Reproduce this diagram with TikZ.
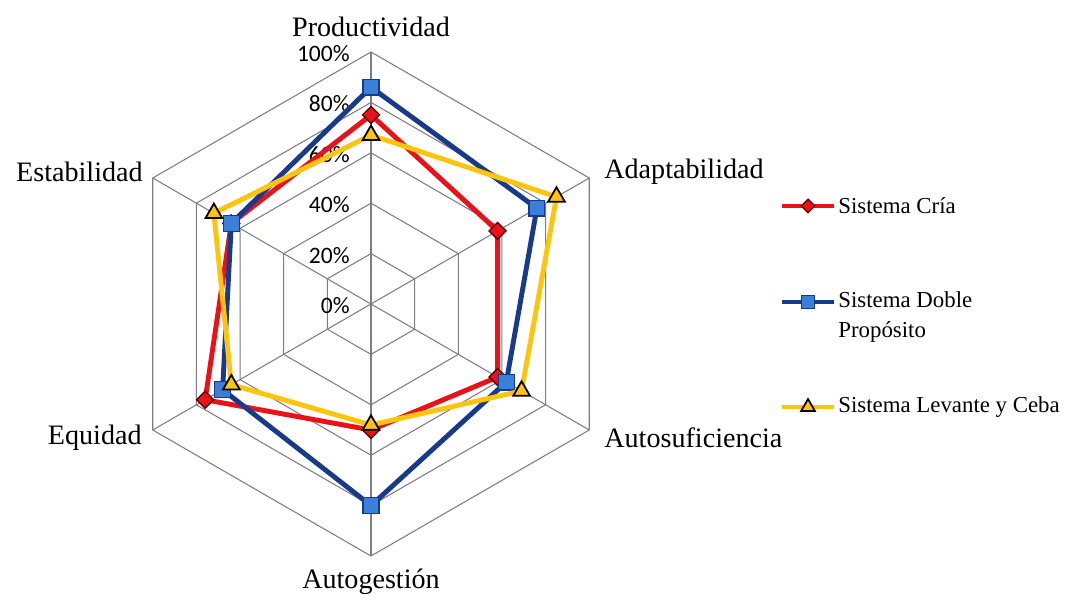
\documentclass[tikz,border=0pt]{standalone}
\usepackage{fontspec}
\setmainfont{Liberation Serif}
\newfontfamily\pctfont{Carlito}
\usetikzlibrary{shapes.geometric}
\definecolor{cria}{RGB}{232,18,24}
\definecolor{doble}{RGB}{24,58,138}
\definecolor{doblefill}{RGB}{58,128,218}
\definecolor{levante}{RGB}{255,196,12}
\definecolor{rejilla}{RGB}{128,122,138}
\tikzset{
  rejilla/.style={draw=rejilla, line width=0.6pt},
  serie/.style={line width=2.8pt, line join=round},
  eje/.style={font=\fontsize{16}{19}\selectfont, inner sep=0pt},
  leyenda/.style={font=\fontsize{13}{17}\selectfont, inner sep=0pt, anchor=west, align=left},
  pct/.style={font=\pctfont\fontsize{13.4}{16}\selectfont, anchor=east, inner sep=0pt},
  mcria/.style={diamond, draw=black!60!red, fill=cria, inner sep=0pt, minimum size=10pt, line width=0.8pt},
  mdoble/.style={rectangle, draw=doble, fill=doblefill, inner sep=0pt, minimum size=9pt, line width=0.8pt},
  mlevante/.style={regular polygon, regular polygon sides=3, draw=black, fill=levante, inner sep=0pt, minimum size=11pt, line width=1pt},
}
\begin{document}
\begin{tikzpicture}
	\useasboundingbox (0,0) rectangle (21.46,12.02);
	\begin{scope}[shift={(7.42,5.94)}]
	% rejilla
	\foreach \n in {1,...,5}
		\draw[rejilla] (90:{\n*1.008}) \foreach \k in {1,...,5} {-- ({90-60*\k}:{\n*1.008})} -- cycle;
	\foreach \k in {0,...,5}
		\draw[rejilla] (0,0) -- ({90-60*\k}:5.04);
	\foreach \n [evaluate=\n as \t using int(20*\n)] in {0,...,5}
		\node[pct] (p\t) at (-0.42,{\n*1.008-0.03}) {\t\%};
	\node[eje, anchor=south] (prod) at (0,5.33) {Productividad};
	\node[eje, anchor=west] (adap) at (4.66,2.64) {Adaptabilidad};
	\node[eje, anchor=west] (auto) at (4.66,-2.68) {Autosuficiencia};
	\node[eje] (gest) at (0,-5.56) {Autogestión};
	\node[eje, anchor=east] (equi) at (-4.58,-2.68) {Equidad};
	\node[eje, anchor=east] (esta) at (-4.56,2.64) {Estabilidad};
	% series
	\foreach \v [count=\k from 0] in {75,58,58,50,76,64}
		\coordinate (c\k) at ({90-60*\k}:{\v*0.0504});
	\draw[serie, cria] (c0) -- (c1) -- (c2) -- (c3) -- (c4) -- (c5) -- cycle;
	\foreach \k in {0,...,5} \node[mcria] at (c\k) {};
	\foreach \v [count=\k from 0] in {86,76,62,80,68,64}
		\coordinate (d\k) at ({90-60*\k}:{\v*0.0504});
	\draw[serie, doble] (d0) -- (d1) -- (d2) -- (d3) -- (d4) -- (d5) -- cycle;
	\foreach \k in {0,...,5} \node[mdoble] at (d\k) {};
	\foreach \v [count=\k from 0] in {67,85,69,48,64,72}
		\coordinate (l\k) at ({90-60*\k}:{\v*0.0504});
	\draw[serie, levante] (l0) -- (l1) -- (l2) -- (l3) -- (l4) -- (l5) -- cycle;
	\foreach \k in {0,...,5} \node[mlevante] at (l\k) {};
	\end{scope}
	% leyenda
	\coordinate (lc1) at (15.64,7.90);
	\coordinate (lc2) at (16.68,7.90);
	\draw[serie, cria] (lc1) -- (lc2);
	\node[mcria, minimum size=8pt] (lcm) at (16.16,7.90) {};
	\node[leyenda] (lcria) at (16.76,7.90) {Sistema Cría};
	\coordinate (ld1) at (15.64,5.98);
	\coordinate (ld2) at (16.68,5.98);
	\draw[serie, doble] (ld1) -- (ld2);
	\node[mdoble, minimum size=7.5pt] (ldm) at (16.16,5.98) {};
	\node[leyenda] (ldoble) at (16.76,5.68) {Sistema Doble\\Propósito};
	\coordinate (ll1) at (15.64,3.88);
	\coordinate (ll2) at (16.68,3.88);
	\draw[serie, levante] (ll1) -- (ll2);
	\node[mlevante, minimum size=9pt] (llm) at (16.16,3.88) {};
	\node[leyenda] (llevante) at (16.76,3.88) {Sistema Levante y Ceba};
\end{tikzpicture}
\end{document}
